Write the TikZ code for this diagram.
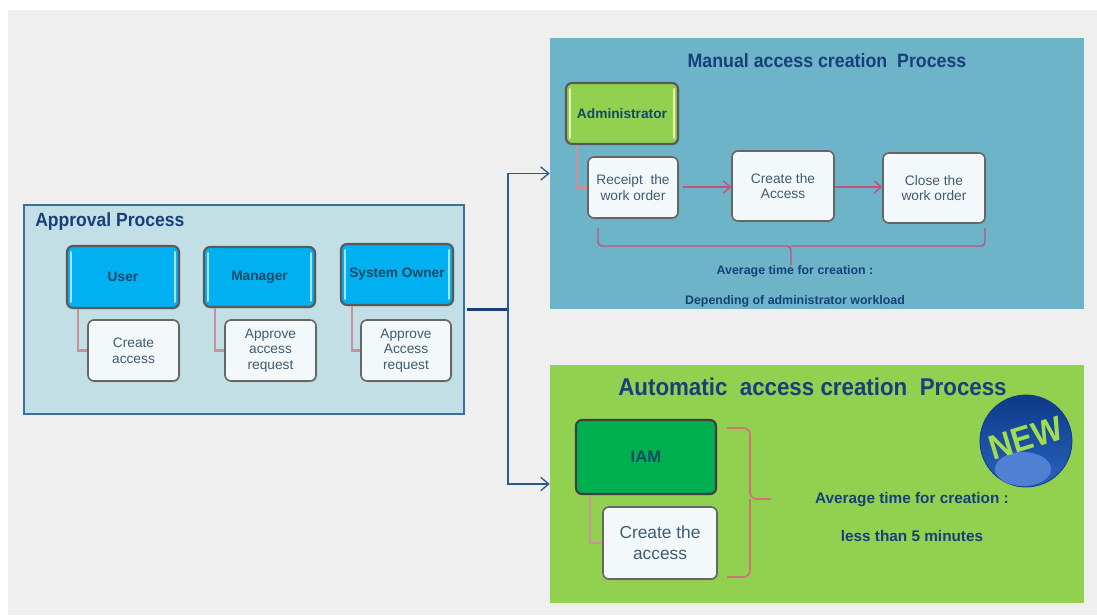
\documentclass[tikz,border=0pt]{standalone}
\usepackage{fontspec}
\setmainfont{Liberation Sans}
\newfontfamily\titlefont[FakeStretch=.92]{Liberation Sans}
\usetikzlibrary{arrows.meta,calc,shadows}
\definecolor{pageGray}{HTML}{EFEFEF}
\definecolor{approvalFill}{HTML}{C3DFE6}
\definecolor{approvalLine}{HTML}{3D6E9F}
\definecolor{manualFill}{HTML}{6EB4C9}
\definecolor{autoFill}{HTML}{92D050}
\definecolor{roleBlue}{HTML}{00B0F0}
\definecolor{roleGreen}{HTML}{00B050}
\definecolor{taskFill}{HTML}{F3F8FA}
\definecolor{titleBlue}{HTML}{17407A}
\definecolor{roleText}{HTML}{0F4A68}
\definecolor{taskText}{HTML}{3F5B72}
\definecolor{linkPink}{HTML}{CC8F9E}
\definecolor{arrowPink}{HTML}{C6507F}
\definecolor{bracePink}{HTML}{D4707A}
\definecolor{flowBlue}{HTML}{2A5A94}
\definecolor{ballDark}{HTML}{0D3A88}
\definecolor{ballBlue}{HTML}{2A63BE}
\definecolor{ballLight}{HTML}{4F80D2}
\definecolor{newGreen}{HTML}{A2DC50}
\tikzset{
  boxsize/.style 2 args={minimum width=#1*.75pt,minimum height=#2*.75pt,inner sep=0pt},
  panel/.style={draw=none},
  rolebox/.style={draw=black!65,line width=1.6pt,rounded corners=4.5pt,fill=roleBlue,
    font=\bfseries\fontsize{10.3}{12}\selectfont,text=roleText,drop shadow={opacity=.25,shadow xshift=1pt,shadow yshift=-1pt}},
  taskbox/.style={draw=black!60,line width=1.2pt,rounded corners=4.5pt,fill=taskFill,align=center,
    font=\fontsize{10.3}{11.8}\selectfont,text=taskText,drop shadow={opacity=.25,shadow xshift=1pt,shadow yshift=-1pt}},
  sumtext/.style={font=\bfseries\fontsize{9.3}{11}\selectfont,text=titleBlue},
  autotext/.style={font=\bfseries\fontsize{11.5}{13}\selectfont,text=titleBlue},
  title/.style={font=\titlefont\bfseries\fontsize{14.5}{17}\selectfont,text=titleBlue},
  gloss/.style={line width=1.2pt,line cap=round},
  link/.style={draw=linkPink,line width=1.6pt},
  bracket/.style={draw=arrowPink,line width=1.1pt,rounded corners=3pt},
  autobracket/.style={draw=bracePink,line width=1.2pt,rounded corners=5pt},
  step arrow/.style={draw=arrowPink,line width=1.1pt,-{Straight Barb[length=5pt,width=9pt]}},
  flow/.style={draw=flowBlue,line width=1pt,-{Straight Barb[length=6pt,width=10pt]}}
}
\begin{document}
\begin{tikzpicture}[x=.75pt,y=-.75pt]
  \useasboundingbox (0,0) rectangle (1097,615);
  \fill[white] (0,0) rectangle (1097,615);
  \fill[pageGray] (8,10) rectangle (1097,615);
  % panels
  \node[panel,boxsize={440}{209},fill=approvalFill,draw=approvalLine,line width=1pt] (Approval) at (244,309.5) {};
  \node[panel,boxsize={534}{271},fill=manualFill] (Manual) at (817,173.5) {};
  \node[panel,boxsize={534}{238},fill=autoFill] (Automatic) at (817,484) {};
  \node[title,anchor=west,inner sep=0pt,font=\titlefont\bfseries\fontsize{14.3}{16}\selectfont] (ApprovalTitle) at (35,222) {Approval Process};
  \node[title] (ManualTitle) at (827,60.5) {Manual access creation\ \ Process};
  \node[title,font=\titlefont\bfseries\fontsize{18.2}{20}\selectfont] (AutomaticTitle) at (812.5,387) {Automatic\ \ access creation\ \ Process};
  % approval column
  \node[rolebox,boxsize={112}{62}] (User) at (123,277) {User};
  \node[rolebox,boxsize={111}{60}] (Manager) at (259.5,277) {Manager};
  \node[rolebox,boxsize={112}{61}] (Owner) at (397,274.5) {System Owner};
  \node[taskbox,boxsize={91}{61}] (CreateAccess) at (133.5,350.5) {Create\\access};
  \node[taskbox,boxsize={91}{61}] (ApproveManager) at (270.5,350.5) {Approve\\access\\request};
  \node[taskbox,boxsize={90}{61}] (ApproveOwner) at (406,350.5) {Approve\\Access\\request};
  \draw[link] (User.south -| 78,0) |- (CreateAccess.west);
  \draw[link] (Manager.south -| 215,0) |- (ApproveManager.west);
  \draw[link] (Owner.south -| 352,0) |- (ApproveOwner.west);
  % manual process
  \node[rolebox,boxsize={112}{61},fill=autoFill] (Admin) at (622,113.5) {Administrator};
  \node[taskbox,boxsize={90}{61}] (Receipt) at (633,187.5) {Receipt\ \ the\\work order};
  \node[taskbox,boxsize={102}{70}] (CreateIt) at (783,186) {Create the\\Access};
  \node[taskbox,boxsize={102}{70}] (CloseIt) at (934,188) {Close the\\work order};
  \draw[link] (Admin.south -| 577,0) |- (Receipt.west);
  \draw[step arrow] (683,187) -- (CreateIt.west |- 683,187);
  \draw[step arrow] (CreateIt.east |- 683,187) -- (CloseIt.west |- 683,187);
  \coordinate (ManualLeft) at (598,228);
  \coordinate (ManualRight) at (985,228);
  \coordinate (ManualTip) at (791,265);
  \draw[bracket] (ManualLeft) |- (ManualTip |- 0,246) -- (ManualTip);
  \draw[bracket] (ManualRight) |- (ManualTip |- 0,246);
  \node[sumtext] (ManualAverage) at (795,271) {Average time for creation :};
  \node[sumtext] (ManualWorkload) at (795,301) {Depending of administrator workload};
  % automatic process
  \node[rolebox,boxsize={140}{74},fill=roleGreen,draw=black!75,font=\bfseries\fontsize{12.5}{14}\selectfont] (IAM) at (646,457) {IAM};
  \node[taskbox,boxsize={114}{72},font=\fontsize{13}{15.5}\selectfont] (CreateAuto) at (660,543) {Create the\\access};
  \draw[link] (IAM.south -| 590,0) |- (CreateAuto.west);
  \coordinate (AutoTop) at (727,428);
  \coordinate (AutoBottom) at (727,577);
  \coordinate (AutoTip) at (771,499);
  \draw[autobracket] (AutoTop) -| (750,499) -- (AutoTip);
  \draw[autobracket] (AutoBottom) -| (750,499);
  \node[autotext] (AutoAverage) at (912,500) {Average time for creation :};
  \node[autotext] (AutoMinutes) at (912,536) {less than 5 minutes};
  % new badge
  \node[circle,boxsize={92}{92},top color=ballDark,bottom color=ballBlue,draw=ballDark,line width=.6pt] (Badge) at (1026,441) {};
  \fill[ballLight] (1023,469) ellipse (28 and 17);
  \node[rotate=17,text=newGreen,inner sep=0pt,font=\titlefont\bfseries\fontsize{26}{28}\selectfont] (NewLabel) at (1026,438) {NEW};
  % glossy edges
  \foreach \n in {User,Manager,Owner} {
    \draw[gloss,draw=cyan!35] ($(\n.north west)+(5,7)$) -- ($(\n.south west)+(5,-7)$);
    \draw[gloss,draw=cyan!35] ($(\n.north east)+(-5,7)$) -- ($(\n.south east)+(-5,-7)$);
  }
  \draw[gloss,draw=yellow!50!autoFill!40] ($(Admin.north west)+(5,7)$) -- ($(Admin.south west)+(5,-7)$);
  \draw[gloss,draw=yellow!50!autoFill!40] ($(Admin.north east)+(-5,7)$) -- ($(Admin.south east)+(-5,-7)$);
  % flow between the panels
  \coordinate (Junction) at (508,309.5);
  \draw[draw=titleBlue,line width=1.6pt] (Approval.east) ++(2,0) -- (Junction);
  \draw[flow] (Junction) |- (Manual.west);
  \draw[flow] (Junction) |- (Automatic.west);
\end{tikzpicture}
\end{document}
